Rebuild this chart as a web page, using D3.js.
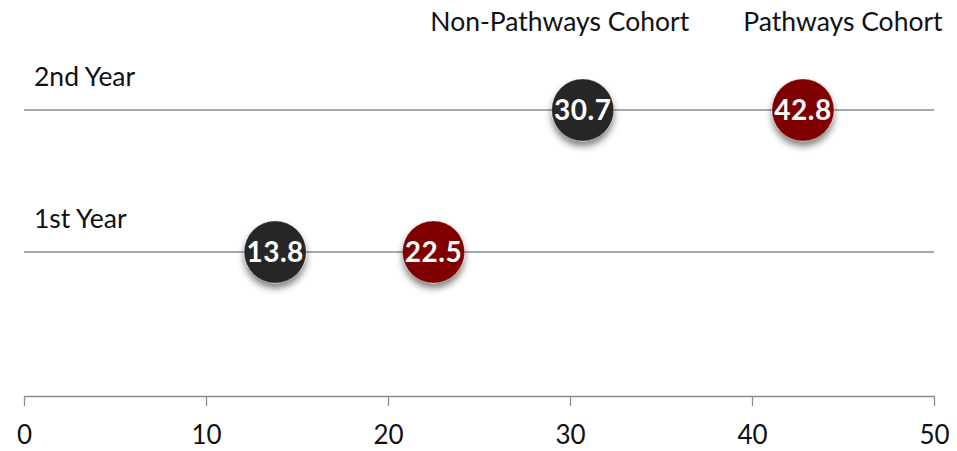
<!DOCTYPE html>
<html><head><meta charset="utf-8">
<script src="https://cdn.jsdelivr.net/npm/d3@7"></script>
<style>body{margin:0;background:#fff}svg{display:block}text{font-family:Lato,"Open Sans",sans-serif}</style>
</head><body><svg id="c" width="957" height="451"></svg>
<script>
const categories = ["2nd Year", "1st Year"];
const seriesNames = ["Non-Pathways Cohort", "Pathways Cohort"];
const nonPathways = [30.7, 13.8];
const pathways = [42.8, 22.5];
const xTicks = [0, 10, 20, 30, 40, 50];
const colors = ["#262626", "#7f0000"];

const svg = d3.select("#c");
const x = d3.scaleLinear().domain([0, 50]).range([24, 934]);
const y = d3.scalePoint().domain(categories).range([110, 252]);

const defs = svg.append("defs");
const f = defs.append("filter").attr("id","sh").attr("x","-50%").attr("y","-50%").attr("width","200%").attr("height","200%");
f.append("feGaussianBlur").attr("in","SourceAlpha").attr("stdDeviation",3.5).attr("result","b");
f.append("feOffset").attr("in","b").attr("dx",0).attr("dy",5).attr("result","o");
f.append("feComponentTransfer").attr("in","o").attr("result","o2").append("feFuncA").attr("type","linear").attr("slope",0.5);
const m = f.append("feMerge"); m.append("feMergeNode").attr("in","o2"); m.append("feMergeNode").attr("in","SourceGraphic");

// row lines
svg.selectAll(".row").data(categories).join("line")
  .attr("x1", x(0)).attr("x2", x(50)).attr("y1", d=>y(d)).attr("y2", d=>y(d))
  .attr("stroke", "#8c8c8c").attr("stroke-width", 1.3);
svg.selectAll(".rowlab").data(categories).join("text")
  .attr("x", 34).attr("y", d=>y(d)-24).attr("font-size", 26.5).attr("fill","#111").text(d=>d);

// axis
const ax = svg.append("g").attr("transform","translate(0,396)")
  .call(d3.axisBottom(x).tickValues(xTicks).tickSize(10).tickSizeOuter(0).tickPadding(20));
ax.select(".domain").attr("stroke","#8c8c8c").attr("stroke-width",1.3);
ax.selectAll(".tick line").attr("stroke","#8c8c8c").attr("stroke-width",1.3);
ax.selectAll("text").attr("font-size",26).attr("fill","#111").attr("font-family","Lato,'Open Sans',sans-serif");

// legend
svg.selectAll(".leg").data(seriesNames).join("text")
  .attr("x", (d,i)=> i===0 ? x(30.7)-23 : x(42.8)+40).attr("y", 31).attr("text-anchor","middle")
  .attr("font-size", 26.5).attr("fill","#111").text(d=>d);

const pts = [];
categories.forEach((c,i)=>{ pts.push({c, v:nonPathways[i], s:0}); pts.push({c, v:pathways[i], s:1}); });
const g = svg.selectAll(".pt").data(pts).join("g").attr("transform", d=>`translate(${x(d.v)},${y(d.c)})`);
g.append("circle").attr("r", 31).attr("fill", d=>colors[d.s]).attr("filter","url(#sh)")
  .attr("stroke","#fff").attr("stroke-opacity",0.25).attr("stroke-width",1);
g.append("text").attr("text-anchor","middle").attr("dy","0.36em").attr("font-size",28)
  .attr("font-weight","bold").attr("letter-spacing",0.5).attr("fill","#fff").text(d=>d.v.toFixed(1));
</script></body></html>
